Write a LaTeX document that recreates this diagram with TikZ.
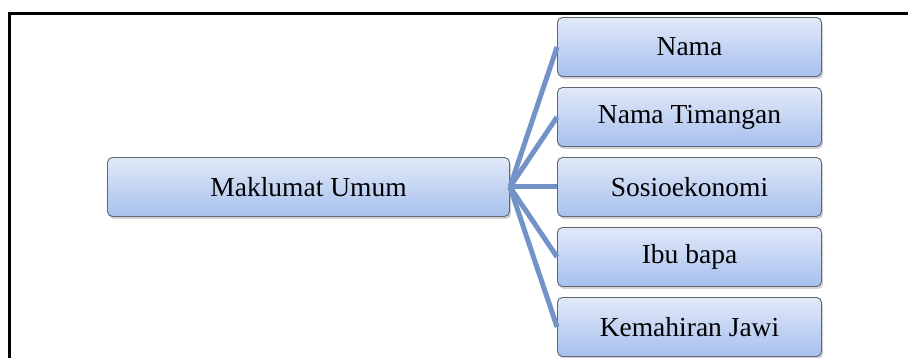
\documentclass[tikz,border=0pt]{standalone}
\usepackage{fontspec}
\setmainfont{Liberation Serif}
\usetikzlibrary{shadows}
\definecolor{boxtop}{HTML}{E2E9F8}
\definecolor{boxbot}{HTML}{A7C0EE}
\definecolor{boxline}{HTML}{5E6574}
\definecolor{conn}{HTML}{7393C8}
\tikzset{
  box/.style={rectangle, rounded corners=5pt, draw=boxline, line width=0.9pt,
    top color=boxtop, bottom color=boxbot,
    drop shadow={shadow xshift=1.5pt, shadow yshift=-2.5pt, opacity=0.35},
    font=\fontsize{27.5}{33}\selectfont, inner sep=0pt, minimum height=59pt},
  child/.style={box, minimum width=264pt},
  link/.style={draw=conn, line width=5pt},
  frame/.style={draw=black, line width=3pt}
}
\begin{document}
\begin{tikzpicture}[x=1pt,y=-1pt]
\useasboundingbox (0,0) rectangle (908,358);
\coordinate (f1) at (9,360);
\coordinate (f2) at (9,14);
\coordinate (f3) at (910,14);
\draw[frame] (f1) -- (f2) -- (f3);
\node[box, minimum width=402pt] (m) at (308.5,187) {Maklumat Umum};
\node[child] (c1) at (689.5,47) {Nama};
\node[child] (c2) at (689.5,117) {Nama Timangan};
\node[child] (c3) at (689.5,187) {Sosioekonomi};
\node[child] (c4) at (689.5,257) {Ibu bapa};
\node[child] (c5) at (689.5,327) {Kemahiran Jawi};
\foreach \c in {c1,c2,c3,c4,c5}{
  \draw[link] (m.east) -- (\c.west);
}
\end{tikzpicture}
\end{document}
